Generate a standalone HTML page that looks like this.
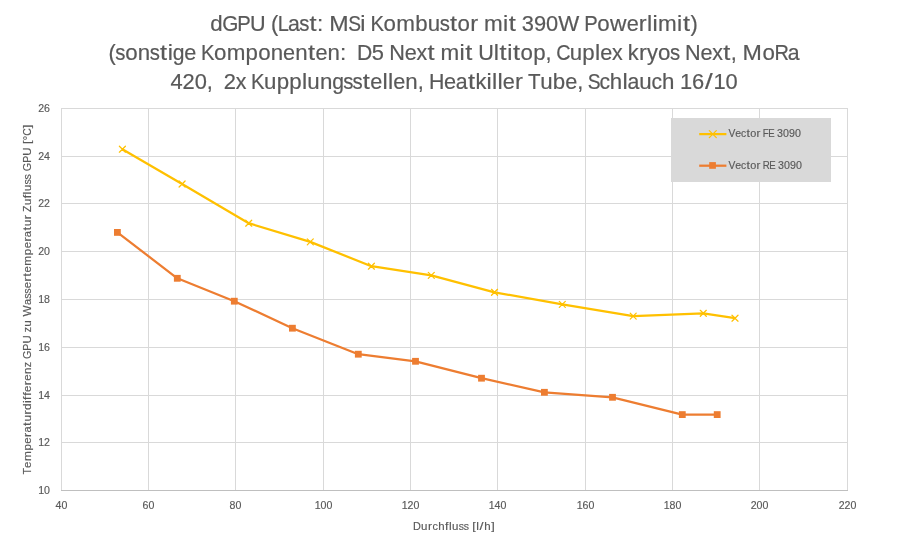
<!DOCTYPE html><html><head><meta charset="utf-8"><style>html,body{margin:0;padding:0;background:#fff;overflow:hidden}svg{display:block;will-change:transform}</style></head><body><svg width="907" height="551" viewBox="0 0 907 551">
<rect x="0" y="0" width="907" height="551" fill="#fff"/>
<path d="M61 108.5H848 M61 156.5H848 M61 203.5H848 M61 251.5H848 M61 299.5H848 M61 347.5H848 M61 395.5H848 M61 442.5H848 M61.5 108V490 M148.5 108V490 M235.5 108V490 M323.5 108V490 M410.5 108V490 M497.5 108V490 M585.5 108V490 M672.5 108V490 M759.5 108V490 M847.5 108V490" stroke="#d9d9d9" stroke-width="1" fill="none"/>
<path d="M61 490.5H848" stroke="#bfbfbf" stroke-width="1" fill="none"/>
<g font-family="Liberation Sans, sans-serif" font-size="22" fill="#595959" stroke="#595959" stroke-width="0.2">
<text x="210.38" y="31" textLength="12.39" lengthAdjust="spacingAndGlyphs">d</text>
<text x="222.33" y="31" textLength="16.09" lengthAdjust="spacingAndGlyphs">G</text>
<text x="237.32" y="31" textLength="13.50" lengthAdjust="spacingAndGlyphs">P</text>
<text x="250.10" y="31" textLength="15.60" lengthAdjust="spacingAndGlyphs">U</text>
<text x="270.94" y="31" textLength="7.28" lengthAdjust="spacingAndGlyphs">(</text>
<text x="277.65" y="31" textLength="11.14" lengthAdjust="spacingAndGlyphs">L</text>
<text x="288.04" y="31" textLength="11.84" lengthAdjust="spacingAndGlyphs">a</text>
<text x="299.26" y="31" textLength="10.17" lengthAdjust="spacingAndGlyphs">s</text>
<text x="309.48" y="31" textLength="7.05" lengthAdjust="spacingAndGlyphs">t</text>
<text x="317.08" y="31" textLength="6.25" lengthAdjust="spacingAndGlyphs">:</text>
<text x="329.32" y="31" textLength="19.37" lengthAdjust="spacingAndGlyphs">M</text>
<text x="348.28" y="31" textLength="12.82" lengthAdjust="spacingAndGlyphs">S</text>
<text x="360.33" y="31" textLength="5.18" lengthAdjust="spacingAndGlyphs">i</text>
<text x="370.49" y="31" textLength="13.54" lengthAdjust="spacingAndGlyphs">K</text>
<text x="383.55" y="31" textLength="12.41" lengthAdjust="spacingAndGlyphs">o</text>
<text x="396.24" y="31" textLength="18.70" lengthAdjust="spacingAndGlyphs">m</text>
<text x="415.20" y="31" textLength="12.39" lengthAdjust="spacingAndGlyphs">b</text>
<text x="427.75" y="31" textLength="12.39" lengthAdjust="spacingAndGlyphs">u</text>
<text x="439.80" y="31" textLength="10.17" lengthAdjust="spacingAndGlyphs">s</text>
<text x="450.02" y="31" textLength="7.05" lengthAdjust="spacingAndGlyphs">t</text>
<text x="457.64" y="31" textLength="12.41" lengthAdjust="spacingAndGlyphs">o</text>
<text x="470.39" y="31" textLength="7.83" lengthAdjust="spacingAndGlyphs">r</text>
<text x="484.05" y="31" textLength="18.70" lengthAdjust="spacingAndGlyphs">m</text>
<text x="503.08" y="31" textLength="5.18" lengthAdjust="spacingAndGlyphs">i</text>
<text x="508.89" y="31" textLength="7.05" lengthAdjust="spacingAndGlyphs">t</text>
<text x="521.78" y="31" textLength="12.17" lengthAdjust="spacingAndGlyphs">3</text>
<text x="533.88" y="31" textLength="12.17" lengthAdjust="spacingAndGlyphs">9</text>
<text x="545.98" y="31" textLength="12.17" lengthAdjust="spacingAndGlyphs">0</text>
<text x="558.23" y="31" textLength="21.00" lengthAdjust="spacingAndGlyphs">W</text>
<text x="584.17" y="31" textLength="13.50" lengthAdjust="spacingAndGlyphs">P</text>
<text x="597.18" y="31" textLength="12.41" lengthAdjust="spacingAndGlyphs">o</text>
<text x="609.97" y="31" textLength="16.48" lengthAdjust="spacingAndGlyphs">w</text>
<text x="626.66" y="31" textLength="12.06" lengthAdjust="spacingAndGlyphs">e</text>
<text x="638.88" y="31" textLength="7.83" lengthAdjust="spacingAndGlyphs">r</text>
<text x="647.10" y="31" textLength="5.18" lengthAdjust="spacingAndGlyphs">l</text>
<text x="652.58" y="31" textLength="5.18" lengthAdjust="spacingAndGlyphs">i</text>
<text x="658.10" y="31" textLength="18.70" lengthAdjust="spacingAndGlyphs">m</text>
<text x="677.13" y="31" textLength="5.18" lengthAdjust="spacingAndGlyphs">i</text>
<text x="682.93" y="31" textLength="7.05" lengthAdjust="spacingAndGlyphs">t</text>
<text x="690.44" y="31" textLength="7.28" lengthAdjust="spacingAndGlyphs">)</text>
<text x="108.48" y="60" textLength="7.28" lengthAdjust="spacingAndGlyphs">(</text>
<text x="115.32" y="60" textLength="10.17" lengthAdjust="spacingAndGlyphs">s</text>
<text x="125.16" y="60" textLength="12.41" lengthAdjust="spacingAndGlyphs">o</text>
<text x="137.73" y="60" textLength="12.39" lengthAdjust="spacingAndGlyphs">n</text>
<text x="149.77" y="60" textLength="10.17" lengthAdjust="spacingAndGlyphs">s</text>
<text x="159.99" y="60" textLength="7.05" lengthAdjust="spacingAndGlyphs">t</text>
<text x="167.66" y="60" textLength="5.18" lengthAdjust="spacingAndGlyphs">i</text>
<text x="172.74" y="60" textLength="11.73" lengthAdjust="spacingAndGlyphs">g</text>
<text x="184.14" y="60" textLength="12.05" lengthAdjust="spacingAndGlyphs">e</text>
<text x="200.93" y="60" textLength="13.54" lengthAdjust="spacingAndGlyphs">K</text>
<text x="213.98" y="60" textLength="12.41" lengthAdjust="spacingAndGlyphs">o</text>
<text x="226.66" y="60" textLength="18.69" lengthAdjust="spacingAndGlyphs">m</text>
<text x="245.62" y="60" textLength="12.39" lengthAdjust="spacingAndGlyphs">p</text>
<text x="258.16" y="60" textLength="12.41" lengthAdjust="spacingAndGlyphs">o</text>
<text x="270.74" y="60" textLength="12.39" lengthAdjust="spacingAndGlyphs">n</text>
<text x="283.11" y="60" textLength="12.05" lengthAdjust="spacingAndGlyphs">e</text>
<text x="295.15" y="60" textLength="12.39" lengthAdjust="spacingAndGlyphs">n</text>
<text x="308.08" y="60" textLength="7.05" lengthAdjust="spacingAndGlyphs">t</text>
<text x="315.51" y="60" textLength="12.05" lengthAdjust="spacingAndGlyphs">e</text>
<text x="327.55" y="60" textLength="12.39" lengthAdjust="spacingAndGlyphs">n</text>
<text x="340.08" y="60" textLength="6.25" lengthAdjust="spacingAndGlyphs">:</text>
<text x="356.89" y="60" textLength="15.28" lengthAdjust="spacingAndGlyphs">D</text>
<text x="371.84" y="60" textLength="12.17" lengthAdjust="spacingAndGlyphs">5</text>
<text x="389.24" y="60" textLength="15.65" lengthAdjust="spacingAndGlyphs">N</text>
<text x="404.67" y="60" textLength="12.05" lengthAdjust="spacingAndGlyphs">e</text>
<text x="416.47" y="60" textLength="10.67" lengthAdjust="spacingAndGlyphs">x</text>
<text x="427.44" y="60" textLength="7.05" lengthAdjust="spacingAndGlyphs">t</text>
<text x="440.55" y="60" textLength="18.69" lengthAdjust="spacingAndGlyphs">m</text>
<text x="459.57" y="60" textLength="5.18" lengthAdjust="spacingAndGlyphs">i</text>
<text x="465.37" y="60" textLength="7.05" lengthAdjust="spacingAndGlyphs">t</text>
<text x="478.14" y="60" textLength="15.60" lengthAdjust="spacingAndGlyphs">U</text>
<text x="493.75" y="60" textLength="5.18" lengthAdjust="spacingAndGlyphs">l</text>
<text x="499.55" y="60" textLength="7.05" lengthAdjust="spacingAndGlyphs">t</text>
<text x="507.22" y="60" textLength="5.18" lengthAdjust="spacingAndGlyphs">i</text>
<text x="513.02" y="60" textLength="7.05" lengthAdjust="spacingAndGlyphs">t</text>
<text x="520.63" y="60" textLength="12.41" lengthAdjust="spacingAndGlyphs">o</text>
<text x="533.20" y="60" textLength="12.39" lengthAdjust="spacingAndGlyphs">p</text>
<text x="545.62" y="60" textLength="6.03" lengthAdjust="spacingAndGlyphs">,</text>
<text x="556.22" y="60" textLength="14.31" lengthAdjust="spacingAndGlyphs">C</text>
<text x="569.81" y="60" textLength="12.39" lengthAdjust="spacingAndGlyphs">u</text>
<text x="582.35" y="60" textLength="12.39" lengthAdjust="spacingAndGlyphs">p</text>
<text x="594.96" y="60" textLength="5.18" lengthAdjust="spacingAndGlyphs">l</text>
<text x="600.19" y="60" textLength="12.05" lengthAdjust="spacingAndGlyphs">e</text>
<text x="611.99" y="60" textLength="10.67" lengthAdjust="spacingAndGlyphs">x</text>
<text x="627.85" y="60" textLength="10.92" lengthAdjust="spacingAndGlyphs">k</text>
<text x="638.99" y="60" textLength="7.82" lengthAdjust="spacingAndGlyphs">r</text>
<text x="647.01" y="60" textLength="10.90" lengthAdjust="spacingAndGlyphs">y</text>
<text x="657.95" y="60" textLength="12.41" lengthAdjust="spacingAndGlyphs">o</text>
<text x="670.03" y="60" textLength="10.17" lengthAdjust="spacingAndGlyphs">s</text>
<text x="685.05" y="60" textLength="15.65" lengthAdjust="spacingAndGlyphs">N</text>
<text x="700.48" y="60" textLength="12.05" lengthAdjust="spacingAndGlyphs">e</text>
<text x="712.28" y="60" textLength="10.67" lengthAdjust="spacingAndGlyphs">x</text>
<text x="723.25" y="60" textLength="7.05" lengthAdjust="spacingAndGlyphs">t</text>
<text x="730.74" y="60" textLength="6.03" lengthAdjust="spacingAndGlyphs">,</text>
<text x="742.64" y="60" textLength="19.36" lengthAdjust="spacingAndGlyphs">M</text>
<text x="762.62" y="60" textLength="12.41" lengthAdjust="spacingAndGlyphs">o</text>
<text x="774.38" y="60" textLength="14.42" lengthAdjust="spacingAndGlyphs">R</text>
<text x="787.87" y="60" textLength="11.83" lengthAdjust="spacingAndGlyphs">a</text>
<text x="170.47" y="88.6" textLength="12.18" lengthAdjust="spacingAndGlyphs">4</text>
<text x="182.60" y="88.6" textLength="12.18" lengthAdjust="spacingAndGlyphs">2</text>
<text x="194.74" y="88.6" textLength="12.18" lengthAdjust="spacingAndGlyphs">0</text>
<text x="206.86" y="88.6" textLength="6.04" lengthAdjust="spacingAndGlyphs">,</text>
<text x="223.66" y="88.6" textLength="12.18" lengthAdjust="spacingAndGlyphs">2</text>
<text x="235.66" y="88.6" textLength="10.68" lengthAdjust="spacingAndGlyphs">x</text>
<text x="251.04" y="88.6" textLength="13.55" lengthAdjust="spacingAndGlyphs">K</text>
<text x="264.12" y="88.6" textLength="12.41" lengthAdjust="spacingAndGlyphs">u</text>
<text x="276.69" y="88.6" textLength="12.41" lengthAdjust="spacingAndGlyphs">p</text>
<text x="289.27" y="88.6" textLength="12.41" lengthAdjust="spacingAndGlyphs">p</text>
<text x="301.91" y="88.6" textLength="5.19" lengthAdjust="spacingAndGlyphs">l</text>
<text x="307.33" y="88.6" textLength="12.41" lengthAdjust="spacingAndGlyphs">u</text>
<text x="319.91" y="88.6" textLength="12.41" lengthAdjust="spacingAndGlyphs">n</text>
<text x="332.16" y="88.6" textLength="11.75" lengthAdjust="spacingAndGlyphs">g</text>
<text x="343.26" y="88.6" textLength="10.18" lengthAdjust="spacingAndGlyphs">s</text>
<text x="352.62" y="88.6" textLength="10.18" lengthAdjust="spacingAndGlyphs">s</text>
<text x="362.86" y="88.6" textLength="7.06" lengthAdjust="spacingAndGlyphs">t</text>
<text x="370.32" y="88.6" textLength="12.07" lengthAdjust="spacingAndGlyphs">e</text>
<text x="382.46" y="88.6" textLength="5.19" lengthAdjust="spacingAndGlyphs">l</text>
<text x="387.96" y="88.6" textLength="5.19" lengthAdjust="spacingAndGlyphs">l</text>
<text x="393.22" y="88.6" textLength="12.07" lengthAdjust="spacingAndGlyphs">e</text>
<text x="405.29" y="88.6" textLength="12.41" lengthAdjust="spacingAndGlyphs">n</text>
<text x="417.75" y="88.6" textLength="6.04" lengthAdjust="spacingAndGlyphs">,</text>
<text x="428.92" y="88.6" textLength="15.40" lengthAdjust="spacingAndGlyphs">H</text>
<text x="444.00" y="88.6" textLength="12.07" lengthAdjust="spacingAndGlyphs">e</text>
<text x="455.79" y="88.6" textLength="11.85" lengthAdjust="spacingAndGlyphs">a</text>
<text x="467.93" y="88.6" textLength="7.06" lengthAdjust="spacingAndGlyphs">t</text>
<text x="475.44" y="88.6" textLength="10.94" lengthAdjust="spacingAndGlyphs">k</text>
<text x="486.50" y="88.6" textLength="5.19" lengthAdjust="spacingAndGlyphs">i</text>
<text x="491.99" y="88.6" textLength="5.19" lengthAdjust="spacingAndGlyphs">l</text>
<text x="497.49" y="88.6" textLength="5.19" lengthAdjust="spacingAndGlyphs">l</text>
<text x="502.75" y="88.6" textLength="12.07" lengthAdjust="spacingAndGlyphs">e</text>
<text x="514.99" y="88.6" textLength="7.84" lengthAdjust="spacingAndGlyphs">r</text>
<text x="528.05" y="88.6" textLength="12.55" lengthAdjust="spacingAndGlyphs">T</text>
<text x="540.24" y="88.6" textLength="12.41" lengthAdjust="spacingAndGlyphs">u</text>
<text x="552.82" y="88.6" textLength="12.41" lengthAdjust="spacingAndGlyphs">b</text>
<text x="565.23" y="88.6" textLength="12.07" lengthAdjust="spacingAndGlyphs">e</text>
<text x="577.18" y="88.6" textLength="6.04" lengthAdjust="spacingAndGlyphs">,</text>
<text x="587.68" y="88.6" textLength="12.84" lengthAdjust="spacingAndGlyphs">S</text>
<text x="599.38" y="88.6" textLength="10.56" lengthAdjust="spacingAndGlyphs">c</text>
<text x="609.80" y="88.6" textLength="12.41" lengthAdjust="spacingAndGlyphs">h</text>
<text x="622.44" y="88.6" textLength="5.19" lengthAdjust="spacingAndGlyphs">l</text>
<text x="627.59" y="88.6" textLength="11.85" lengthAdjust="spacingAndGlyphs">a</text>
<text x="639.33" y="88.6" textLength="12.41" lengthAdjust="spacingAndGlyphs">u</text>
<text x="651.60" y="88.6" textLength="10.56" lengthAdjust="spacingAndGlyphs">c</text>
<text x="662.03" y="88.6" textLength="12.41" lengthAdjust="spacingAndGlyphs">h</text>
<text x="679.91" y="88.6" textLength="12.18" lengthAdjust="spacingAndGlyphs">1</text>
<text x="692.04" y="88.6" textLength="12.18" lengthAdjust="spacingAndGlyphs">6</text>
<text x="704.98" y="88.6" textLength="7.68" lengthAdjust="spacingAndGlyphs">/</text>
<text x="713.41" y="88.6" textLength="12.18" lengthAdjust="spacingAndGlyphs">1</text>
<text x="725.54" y="88.6" textLength="12.18" lengthAdjust="spacingAndGlyphs">0</text>
</g>
<g font-family="Liberation Sans, sans-serif" font-size="10.6" fill="#595959" stroke="#595959" stroke-width="0.15">
<text x="50" y="111.7" text-anchor="end">26</text>
<text x="50" y="159.7" text-anchor="end">24</text>
<text x="50" y="206.7" text-anchor="end">22</text>
<text x="50" y="254.7" text-anchor="end">20</text>
<text x="50" y="302.7" text-anchor="end">18</text>
<text x="50" y="350.7" text-anchor="end">16</text>
<text x="50" y="398.7" text-anchor="end">14</text>
<text x="50" y="445.7" text-anchor="end">12</text>
<text x="50" y="493.7" text-anchor="end">10</text>
<text x="61.5" y="508.7" text-anchor="middle">40</text>
<text x="148.5" y="508.7" text-anchor="middle">60</text>
<text x="235.5" y="508.7" text-anchor="middle">80</text>
<text x="323.5" y="508.7" text-anchor="middle">100</text>
<text x="410.5" y="508.7" text-anchor="middle">120</text>
<text x="497.5" y="508.7" text-anchor="middle">140</text>
<text x="585.5" y="508.7" text-anchor="middle">160</text>
<text x="672.5" y="508.7" text-anchor="middle">180</text>
<text x="759.5" y="508.7" text-anchor="middle">200</text>
<text x="847.5" y="508.7" text-anchor="middle">220</text>
<text x="412.91" y="529.7" textLength="7.87" lengthAdjust="spacingAndGlyphs">D</text>
<text x="421.13" y="529.7" textLength="6.40" lengthAdjust="spacingAndGlyphs">u</text>
<text x="428.04" y="529.7" textLength="4.05" lengthAdjust="spacingAndGlyphs">r</text>
<text x="432.42" y="529.7" textLength="5.43" lengthAdjust="spacingAndGlyphs">c</text>
<text x="438.16" y="529.7" textLength="6.40" lengthAdjust="spacingAndGlyphs">h</text>
<text x="445.08" y="529.7" textLength="3.48" lengthAdjust="spacingAndGlyphs">f</text>
<text x="448.98" y="529.7" textLength="2.68" lengthAdjust="spacingAndGlyphs">l</text>
<text x="452.08" y="529.7" textLength="6.40" lengthAdjust="spacingAndGlyphs">u</text>
<text x="458.69" y="529.7" textLength="5.22" lengthAdjust="spacingAndGlyphs">s</text>
<text x="463.83" y="529.7" textLength="5.22" lengthAdjust="spacingAndGlyphs">s</text>
<text x="472.24" y="529.7" textLength="3.48" lengthAdjust="spacingAndGlyphs">[</text>
<text x="476.16" y="529.7" textLength="2.68" lengthAdjust="spacingAndGlyphs">l</text>
<text x="479.54" y="529.7" textLength="4.01" lengthAdjust="spacingAndGlyphs">/</text>
<text x="484.33" y="529.7" textLength="6.40" lengthAdjust="spacingAndGlyphs">h</text>
<text x="491.25" y="529.7" textLength="3.48" lengthAdjust="spacingAndGlyphs">]</text>
<g transform="translate(30.9 474.5) rotate(-90)">
<text x="-0.05" y="0" textLength="6.57" lengthAdjust="spacingAndGlyphs">T</text>
<text x="6.61" y="0" textLength="6.34" lengthAdjust="spacingAndGlyphs">e</text>
<text x="13.47" y="0" textLength="9.85" lengthAdjust="spacingAndGlyphs">m</text>
<text x="23.93" y="0" textLength="6.52" lengthAdjust="spacingAndGlyphs">p</text>
<text x="30.81" y="0" textLength="6.34" lengthAdjust="spacingAndGlyphs">e</text>
<text x="37.54" y="0" textLength="4.13" lengthAdjust="spacingAndGlyphs">r</text>
<text x="41.99" y="0" textLength="6.21" lengthAdjust="spacingAndGlyphs">a</text>
<text x="48.64" y="0" textLength="3.74" lengthAdjust="spacingAndGlyphs">t</text>
<text x="52.96" y="0" textLength="6.52" lengthAdjust="spacingAndGlyphs">u</text>
<text x="59.96" y="0" textLength="4.13" lengthAdjust="spacingAndGlyphs">r</text>
<text x="64.57" y="0" textLength="6.52" lengthAdjust="spacingAndGlyphs">d</text>
<text x="71.48" y="0" textLength="2.74" lengthAdjust="spacingAndGlyphs">i</text>
<text x="74.63" y="0" textLength="3.54" lengthAdjust="spacingAndGlyphs">f</text>
<text x="78.68" y="0" textLength="3.54" lengthAdjust="spacingAndGlyphs">f</text>
<text x="82.62" y="0" textLength="6.34" lengthAdjust="spacingAndGlyphs">e</text>
<text x="89.34" y="0" textLength="4.13" lengthAdjust="spacingAndGlyphs">r</text>
<text x="93.86" y="0" textLength="6.34" lengthAdjust="spacingAndGlyphs">e</text>
<text x="100.56" y="0" textLength="6.52" lengthAdjust="spacingAndGlyphs">n</text>
<text x="107.26" y="0" textLength="5.35" lengthAdjust="spacingAndGlyphs">z</text>
<text x="115.54" y="0" textLength="8.43" lengthAdjust="spacingAndGlyphs">G</text>
<text x="123.84" y="0" textLength="7.07" lengthAdjust="spacingAndGlyphs">P</text>
<text x="130.97" y="0" textLength="8.20" lengthAdjust="spacingAndGlyphs">U</text>
<text x="142.28" y="0" textLength="5.35" lengthAdjust="spacingAndGlyphs">z</text>
<text x="147.81" y="0" textLength="6.52" lengthAdjust="spacingAndGlyphs">u</text>
<text x="157.95" y="0" textLength="11.05" lengthAdjust="spacingAndGlyphs">W</text>
<text x="169.46" y="0" textLength="6.21" lengthAdjust="spacingAndGlyphs">a</text>
<text x="175.69" y="0" textLength="5.32" lengthAdjust="spacingAndGlyphs">s</text>
<text x="180.88" y="0" textLength="5.32" lengthAdjust="spacingAndGlyphs">s</text>
<text x="186.28" y="0" textLength="6.34" lengthAdjust="spacingAndGlyphs">e</text>
<text x="193.00" y="0" textLength="4.13" lengthAdjust="spacingAndGlyphs">r</text>
<text x="197.74" y="0" textLength="3.74" lengthAdjust="spacingAndGlyphs">t</text>
<text x="201.97" y="0" textLength="6.34" lengthAdjust="spacingAndGlyphs">e</text>
<text x="208.83" y="0" textLength="9.85" lengthAdjust="spacingAndGlyphs">m</text>
<text x="219.29" y="0" textLength="6.52" lengthAdjust="spacingAndGlyphs">p</text>
<text x="226.17" y="0" textLength="6.34" lengthAdjust="spacingAndGlyphs">e</text>
<text x="232.90" y="0" textLength="4.13" lengthAdjust="spacingAndGlyphs">r</text>
<text x="237.35" y="0" textLength="6.21" lengthAdjust="spacingAndGlyphs">a</text>
<text x="244.00" y="0" textLength="3.74" lengthAdjust="spacingAndGlyphs">t</text>
<text x="248.32" y="0" textLength="6.52" lengthAdjust="spacingAndGlyphs">u</text>
<text x="255.32" y="0" textLength="4.13" lengthAdjust="spacingAndGlyphs">r</text>
<text x="262.60" y="0" textLength="6.44" lengthAdjust="spacingAndGlyphs">Z</text>
<text x="269.16" y="0" textLength="6.52" lengthAdjust="spacingAndGlyphs">u</text>
<text x="276.16" y="0" textLength="3.54" lengthAdjust="spacingAndGlyphs">f</text>
<text x="280.12" y="0" textLength="2.74" lengthAdjust="spacingAndGlyphs">l</text>
<text x="283.24" y="0" textLength="6.52" lengthAdjust="spacingAndGlyphs">u</text>
<text x="289.93" y="0" textLength="5.32" lengthAdjust="spacingAndGlyphs">s</text>
<text x="295.12" y="0" textLength="5.32" lengthAdjust="spacingAndGlyphs">s</text>
<text x="303.36" y="0" textLength="8.43" lengthAdjust="spacingAndGlyphs">G</text>
<text x="311.66" y="0" textLength="7.07" lengthAdjust="spacingAndGlyphs">P</text>
<text x="318.79" y="0" textLength="8.20" lengthAdjust="spacingAndGlyphs">U</text>
<text x="330.42" y="0" textLength="3.55" lengthAdjust="spacingAndGlyphs">[</text>
<text x="334.29" y="0" textLength="4.49" lengthAdjust="spacingAndGlyphs">°</text>
<text x="338.65" y="0" textLength="7.48" lengthAdjust="spacingAndGlyphs">C</text>
<text x="346.19" y="0" textLength="3.55" lengthAdjust="spacingAndGlyphs">]</text>
</g>
</g>
<polyline points="122.4,149.2 182.1,184.0 248.7,223.2 310.3,241.9 371.4,266.2 431.3,275.4 494.5,292.3 562.3,304.4 633.2,316.1 703.3,313.3 735.0,318.2" fill="none" stroke="#ffc000" stroke-width="2.25" stroke-linejoin="round" stroke-linecap="round"/>
<path d="M119.4 146.2L125.4 152.2M119.4 152.2L125.4 146.2 M179.1 181.0L185.1 187.0M179.1 187.0L185.1 181.0 M245.7 220.2L251.7 226.2M245.7 226.2L251.7 220.2 M307.3 238.9L313.3 244.9M307.3 244.9L313.3 238.9 M368.4 263.2L374.4 269.2M368.4 269.2L374.4 263.2 M428.3 272.4L434.3 278.4M428.3 278.4L434.3 272.4 M491.5 289.3L497.5 295.3M491.5 295.3L497.5 289.3 M559.3 301.4L565.3 307.4M559.3 307.4L565.3 301.4 M630.2 313.1L636.2 319.1M630.2 319.1L636.2 313.1 M700.3 310.3L706.3 316.3M700.3 316.3L706.3 310.3 M732.0 315.2L738.0 321.2M732.0 321.2L738.0 315.2" stroke="#ffc000" stroke-width="1.25" fill="none" stroke-linecap="round"/>
<polyline points="117.4,232.4 177.3,278.3 234.3,301.2 292.4,328.2 358.3,354.2 415.5,361.3 481.5,378.2 544.4,392.3 612.5,397.3 682.3,414.6 717.2,414.6" fill="none" stroke="#ed7d31" stroke-width="2.25" stroke-linejoin="round" stroke-linecap="round"/>
<rect x="114.0" y="229.0" width="6.8" height="6.8" fill="#ed7d31"/>
<rect x="173.9" y="274.9" width="6.8" height="6.8" fill="#ed7d31"/>
<rect x="230.9" y="297.8" width="6.8" height="6.8" fill="#ed7d31"/>
<rect x="289.0" y="324.8" width="6.8" height="6.8" fill="#ed7d31"/>
<rect x="354.9" y="350.8" width="6.8" height="6.8" fill="#ed7d31"/>
<rect x="412.1" y="357.9" width="6.8" height="6.8" fill="#ed7d31"/>
<rect x="478.1" y="374.8" width="6.8" height="6.8" fill="#ed7d31"/>
<rect x="541.0" y="388.9" width="6.8" height="6.8" fill="#ed7d31"/>
<rect x="609.1" y="393.9" width="6.8" height="6.8" fill="#ed7d31"/>
<rect x="678.9" y="411.2" width="6.8" height="6.8" fill="#ed7d31"/>
<rect x="713.8" y="411.2" width="6.8" height="6.8" fill="#ed7d31"/>
<rect x="671" y="118" width="160" height="64" fill="#d9d9d9"/>
<path d="M699.2 134.1H726.4" stroke="#ffc000" stroke-width="2.25"/>
<path d="M709.3 130.6L716.3 137.6M709.3 137.6L716.3 130.6" stroke="#ffc000" stroke-width="1.25" stroke-linecap="round"/>
<path d="M699.2 165.7H726.4" stroke="#ed7d31" stroke-width="2.25"/>
<rect x="709.2" y="162.1" width="6.7" height="6.7" fill="#ed7d31"/>
<g font-family="Liberation Sans, sans-serif" font-size="10.6" fill="#595959" stroke="#595959" stroke-width="0.15">
<text x="728.51" y="136.9" textLength="6.88" lengthAdjust="spacingAndGlyphs">V</text>
<text x="735.29" y="136.9" textLength="5.88" lengthAdjust="spacingAndGlyphs">e</text>
<text x="741.09" y="136.9" textLength="5.15" lengthAdjust="spacingAndGlyphs">c</text>
<text x="746.41" y="136.9" textLength="3.45" lengthAdjust="spacingAndGlyphs">t</text>
<text x="750.19" y="136.9" textLength="6.06" lengthAdjust="spacingAndGlyphs">o</text>
<text x="756.48" y="136.9" textLength="3.82" lengthAdjust="spacingAndGlyphs">r</text>
<text x="762.86" y="136.9" textLength="5.95" lengthAdjust="spacingAndGlyphs">F</text>
<text x="768.22" y="136.9" textLength="6.42" lengthAdjust="spacingAndGlyphs">E</text>
<text x="776.99" y="136.9" textLength="5.94" lengthAdjust="spacingAndGlyphs">3</text>
<text x="782.98" y="136.9" textLength="5.94" lengthAdjust="spacingAndGlyphs">0</text>
<text x="788.96" y="136.9" textLength="5.94" lengthAdjust="spacingAndGlyphs">9</text>
<text x="794.94" y="136.9" textLength="5.94" lengthAdjust="spacingAndGlyphs">0</text>
<text x="728.51" y="168.8" textLength="6.88" lengthAdjust="spacingAndGlyphs">V</text>
<text x="735.29" y="168.8" textLength="5.88" lengthAdjust="spacingAndGlyphs">e</text>
<text x="741.09" y="168.8" textLength="5.15" lengthAdjust="spacingAndGlyphs">c</text>
<text x="746.41" y="168.8" textLength="3.45" lengthAdjust="spacingAndGlyphs">t</text>
<text x="750.20" y="168.8" textLength="6.06" lengthAdjust="spacingAndGlyphs">o</text>
<text x="756.49" y="168.8" textLength="3.82" lengthAdjust="spacingAndGlyphs">r</text>
<text x="762.81" y="168.8" textLength="7.03" lengthAdjust="spacingAndGlyphs">R</text>
<text x="769.21" y="168.8" textLength="6.42" lengthAdjust="spacingAndGlyphs">E</text>
<text x="777.99" y="168.8" textLength="5.94" lengthAdjust="spacingAndGlyphs">3</text>
<text x="783.97" y="168.8" textLength="5.94" lengthAdjust="spacingAndGlyphs">0</text>
<text x="789.96" y="168.8" textLength="5.94" lengthAdjust="spacingAndGlyphs">9</text>
<text x="795.94" y="168.8" textLength="5.94" lengthAdjust="spacingAndGlyphs">0</text>
</g>
</svg></body></html>
